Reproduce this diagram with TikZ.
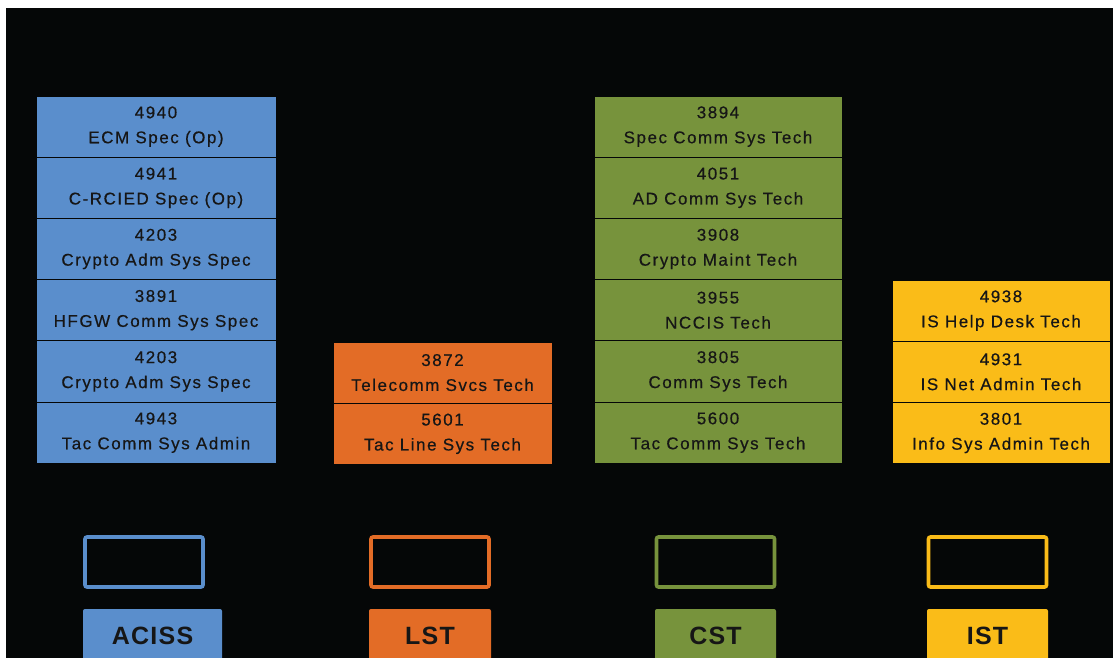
\documentclass[tikz,border=0pt]{standalone}
\usepackage{fontspec}
\setmainfont{Liberation Sans}
\newfontfamily\jobfont[LetterSpace=9,FakeBold=0.5]{Liberation Sans}
\newfontfamily\tagfont[LetterSpace=5]{Liberation Sans}
\usetikzlibrary{positioning}

\definecolor{bgblack}{RGB}{5,7,7}
\definecolor{jobtext}{RGB}{22,22,22}
\definecolor{acissblue}{RGB}{90,142,204}
\definecolor{lstorange}{RGB}{227,108,38}
\definecolor{cstgreen}{RGB}{119,147,60}
\definecolor{istyellow}{RGB}{250,188,24}

\begin{document}
\begin{tikzpicture}[x=1pt, y=-1pt, node distance=0pt, inner sep=0pt, outer sep=0pt]
				\tikzset{job/.style={draw=bgblack, line width=0.9pt, minimum height=61.2pt, align=center, text=jobtext, font=\jobfont\fontsize{17}{25}\selectfont}}
				\tikzset{frame/.style={draw=#1, line width=3.6pt, rounded corners=2pt, minimum width=118pt, minimum height=50pt}}
				\tikzset{tag/.style={fill=#1, rounded corners=2pt, minimum height=53pt, anchor=north, text=jobtext, font=\tagfont\bfseries\fontsize{25}{25}\selectfont}}

				\useasboundingbox (0,0) rectangle (1113,658);
				\clip (0,0) rectangle (1113,658);
				\fill[white] (0,0) rectangle (1113,658);
				\fill[bgblack] (6,8) rectangle (1113,658);

				%ACISS
				\node[job, fill=acissblue, minimum width=240pt, anchor=north] (a1) at (156,96) {4940\\ECM Spec (Op)};
				\node[job, fill=acissblue, minimum width=240pt] (a2) [below=of a1] {4941\\C-RCIED Spec (Op)};
				\node[job, fill=acissblue, minimum width=240pt] (a3) [below=of a2] {4203\\Crypto Adm Sys Spec};
				\node[job, fill=acissblue, minimum width=240pt] (a4) [below=of a3] {3891\\HFGW Comm Sys Spec};
				\node[job, fill=acissblue, minimum width=240pt] (a5) [below=of a4] {4203\\Crypto Adm Sys Spec};
				\node[job, fill=acissblue, minimum width=240pt] (a6) [below=of a5] {4943\\Tac Comm Sys Admin};

				%LST
				\node[job, fill=lstorange, minimum width=219pt, anchor=north] (l1) at (442.5,342) {3872\\Telecomm Svcs Tech};
				\node[job, fill=lstorange, minimum width=219pt] (l2) [below=of l1] {5601\\Tac Line Sys Tech};

				%CST
				\node[job, fill=cstgreen, minimum width=248pt, anchor=north] (c1) at (718,96) {3894\\Spec Comm Sys Tech};
				\node[job, fill=cstgreen, minimum width=248pt] (c2) [below=of c1] {4051\\AD Comm Sys Tech};
				\node[job, fill=cstgreen, minimum width=248pt] (c3) [below=of c2] {3908\\Crypto Maint Tech};
				\node[job, fill=cstgreen, minimum width=248pt] (c4) [below=of c3] {3955\\NCCIS Tech};
				\node[job, fill=cstgreen, minimum width=248pt] (c5) [below=of c4] {3805\\Comm Sys Tech};
				\node[job, fill=cstgreen, minimum width=248pt] (c6) [below=of c5] {5600\\Tac Comm Sys Tech};

				%IST
				\node[job, fill=istyellow, minimum width=218pt, anchor=north] (i1) at (1001,280) {4938\\IS Help Desk Tech};
				\node[job, fill=istyellow, minimum width=218pt] (i2) [below=of i1] {4931\\IS Net Admin Tech};
				\node[job, fill=istyellow, minimum width=218pt] (i3) [below=of i2] {3801\\Info Sys Admin Tech};

				%RECUADROS
				\node[frame=acissblue]  (fa) at (144,562)   {};
				\node[frame=lstorange]  (fl) at (430,562)   {};
				\node[frame=cstgreen]   (fc) at (715.5,562) {};
				\node[frame=istyellow]  (fi) at (987.5,562) {};

				%ETIQUETAS
				\node[tag=acissblue, minimum width=139pt] (ta) at (152.5,609) {ACISS};
				\node[tag=lstorange, minimum width=122pt] (tl) at (430,609)   {LST};
				\node[tag=cstgreen,  minimum width=121pt] (tc) at (715.5,609) {CST};
				\node[tag=istyellow, minimum width=121pt] (ti) at (987.5,609) {IST};
\end{tikzpicture}
\end{document}
